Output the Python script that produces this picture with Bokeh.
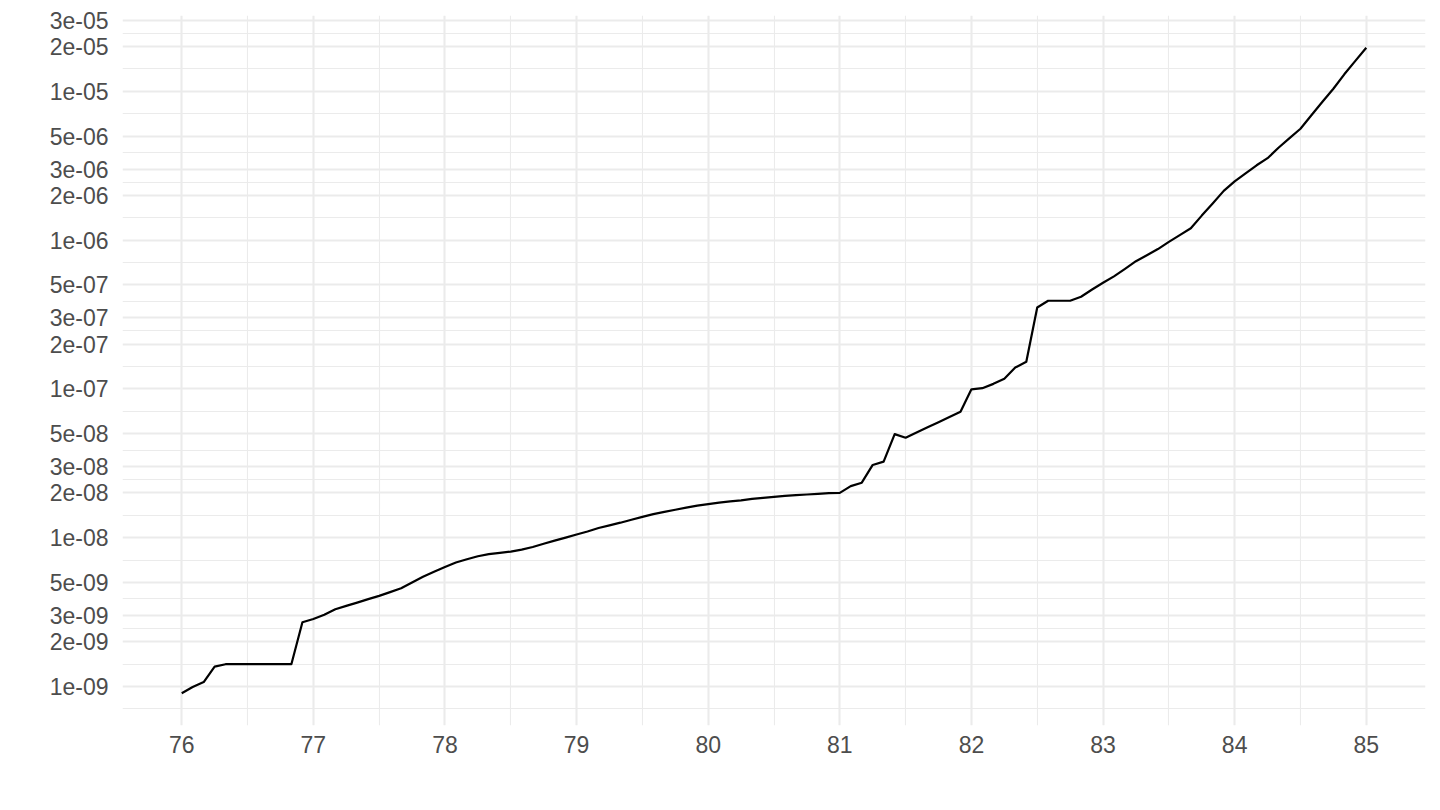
import math
from bokeh.plotting import figure
from bokeh.models import FixedTicker, CustomJSTickFormatter, Range1d, ColumnDataSource
from bokeh.embed import file_html
from bokeh.resources import INLINE

# ---- data (monthly) ----
x_vals = [76.000, 76.083, 76.167, 76.250, 76.333, 76.417, 76.500, 76.583, 76.667, 76.750, 76.833, 76.917,
          77.000, 77.083, 77.167, 77.250, 77.333, 77.417, 77.500, 77.583, 77.667, 77.750, 77.833, 77.917,
          78.000, 78.083, 78.167, 78.250, 78.333, 78.417, 78.500, 78.583, 78.667, 78.750, 78.833, 78.917,
          79.000, 79.083, 79.167, 79.250, 79.333, 79.417, 79.500, 79.583, 79.667, 79.750, 79.833, 79.917,
          80.000, 80.083, 80.167, 80.250, 80.333, 80.417, 80.500, 80.583, 80.667, 80.750, 80.833, 80.917,
          81.000, 81.083, 81.167, 81.250, 81.333, 81.417, 81.500, 81.583, 81.667, 81.750, 81.833, 81.917,
          82.000, 82.083, 82.167, 82.250, 82.333, 82.417, 82.500, 82.583, 82.667, 82.750, 82.833, 82.917,
          83.000, 83.083, 83.167, 83.250, 83.333, 83.417, 83.500, 83.583, 83.667, 83.750, 83.833, 83.917,
          84.000, 84.083, 84.167, 84.250, 84.333, 84.417, 84.500, 84.583, 84.667, 84.750, 84.833, 84.917,
          85.000]
y_vals = [9.0e-10, 9.9e-10, 1.07e-9, 1.36e-9, 1.41e-9, 1.41e-9, 1.41e-9, 1.41e-9, 1.41e-9, 1.41e-9, 1.41e-9, 2.70e-9,
          2.84e-9, 3.03e-9, 3.30e-9, 3.48e-9, 3.66e-9, 3.86e-9, 4.06e-9, 4.30e-9, 4.57e-9, 5.00e-9, 5.45e-9, 5.90e-9,
          6.35e-9, 6.80e-9, 7.15e-9, 7.50e-9, 7.75e-9, 7.90e-9, 8.05e-9, 8.30e-9, 8.65e-9, 9.10e-9, 9.55e-9, 1.00e-8,
          1.05e-8, 1.10e-8, 1.16e-8, 1.21e-8, 1.26e-8, 1.32e-8, 1.38e-8, 1.44e-8, 1.49e-8, 1.54e-8, 1.59e-8, 1.64e-8,
          1.68e-8, 1.72e-8, 1.75e-8, 1.78e-8, 1.82e-8, 1.85e-8, 1.88e-8, 1.91e-8, 1.93e-8, 1.95e-8, 1.97e-8, 1.99e-8,
          2.00e-8, 2.22e-8, 2.34e-8, 3.08e-8, 3.24e-8, 4.96e-8, 4.69e-8, 5.08e-8, 5.51e-8, 5.97e-8, 6.47e-8, 7.02e-8,
          9.93e-8, 1.01e-7, 1.08e-7, 1.17e-7, 1.39e-7, 1.52e-7, 3.52e-7, 3.91e-7, 3.91e-7, 3.91e-7, 4.16e-7, 4.65e-7,
          5.16e-7, 5.70e-7, 6.40e-7, 7.21e-7, 7.90e-7, 8.70e-7, 9.72e-7, 1.08e-6, 1.20e-6, 1.46e-6, 1.76e-6, 2.14e-6,
          2.48e-6, 2.81e-6, 3.18e-6, 3.55e-6, 4.17e-6, 4.84e-6, 5.60e-6, 6.90e-6, 8.50e-6, 1.04e-5, 1.30e-5, 1.60e-5,
          1.96e-5]

x_major = [76, 77, 78, 79, 80, 81, 82, 83, 84, 85]
x_minor = [76.5, 77.5, 78.5, 79.5, 80.5, 81.5, 82.5, 83.5, 84.5]
y_major = [1e-9, 2e-9, 3e-9, 5e-9, 1e-8, 2e-8, 3e-8, 5e-8, 1e-7, 2e-7, 3e-7, 5e-7,
           1e-6, 2e-6, 3e-6, 5e-6, 1e-5, 2e-5, 3e-5]

# minor breaks: midpoints (in log space) between majors, as ggplot does
lm = [math.log10(v) for v in y_major]
y_minor = [10 ** (lm[0] - (lm[1] - lm[0]) / 2)]
y_minor += [10 ** ((a + b) / 2) for a, b in zip(lm[:-1], lm[1:])]
y_minor += [10 ** (lm[-1] + (lm[-1] - lm[-2]) / 2)]

# ranges with 5% expansion (log space for y)
ylo, yhi = math.log10(min(y_vals)), math.log10(max(y_vals))
ys = yhi - ylo
xlo, xhi = min(x_vals), max(x_vals)
xs = xhi - xlo

GRID = "#EBEBEB"
TXT = "#4D4D4D"
FONT = "Liberation Sans"

p = figure(frame_width=1303, frame_height=710, y_axis_type="log",
           x_range=Range1d(xlo - 0.05 * xs, xhi + 0.05 * xs),
           y_range=Range1d(10 ** (ylo - 0.05 * ys), 10 ** (yhi + 0.05 * ys)),
           output_backend="svg", toolbar_location=None,
           min_border_left=122, min_border_right=7, min_border_top=15, min_border_bottom=77)
p.outline_line_color = None
p.background_fill_color = "white"
p.border_fill_color = "white"

xt = FixedTicker(ticks=x_major, minor_ticks=x_minor)
yt = FixedTicker(ticks=y_major, minor_ticks=y_minor)
p.xaxis.ticker = xt
p.yaxis.ticker = yt
p.xgrid.ticker = xt
p.ygrid.ticker = yt

p.yaxis.formatter = CustomJSTickFormatter(code="""
var s = tick.toExponential(0);
return s.replace(/e([+-])(\\d)$/, 'e$10$2');
""")

for ax in (p.xaxis, p.yaxis):
    ax.axis_line_color = None
    ax.major_tick_line_color = None
    ax.minor_tick_line_color = None
    ax.major_tick_out = 0
    ax.major_tick_in = 0
    ax.minor_tick_out = 0
    ax.minor_tick_in = 0
    ax.major_label_text_font = FONT
    ax.major_label_text_font_size = "23px"
    ax.major_label_text_color = TXT
p.xaxis.major_label_standoff = 10
p.yaxis.major_label_standoff = 14

for g in (p.xgrid, p.ygrid):
    g.grid_line_color = GRID
    g.grid_line_width = 2.1
    g.minor_grid_line_color = GRID
    g.minor_grid_line_width = 1.1

src = ColumnDataSource(data=dict(x=x_vals, y=y_vals))
p.line("x", "y", source=src, line_color="black", line_width=2.2, line_join="round")

open("out.html", "w").write(file_html(p, INLINE))
